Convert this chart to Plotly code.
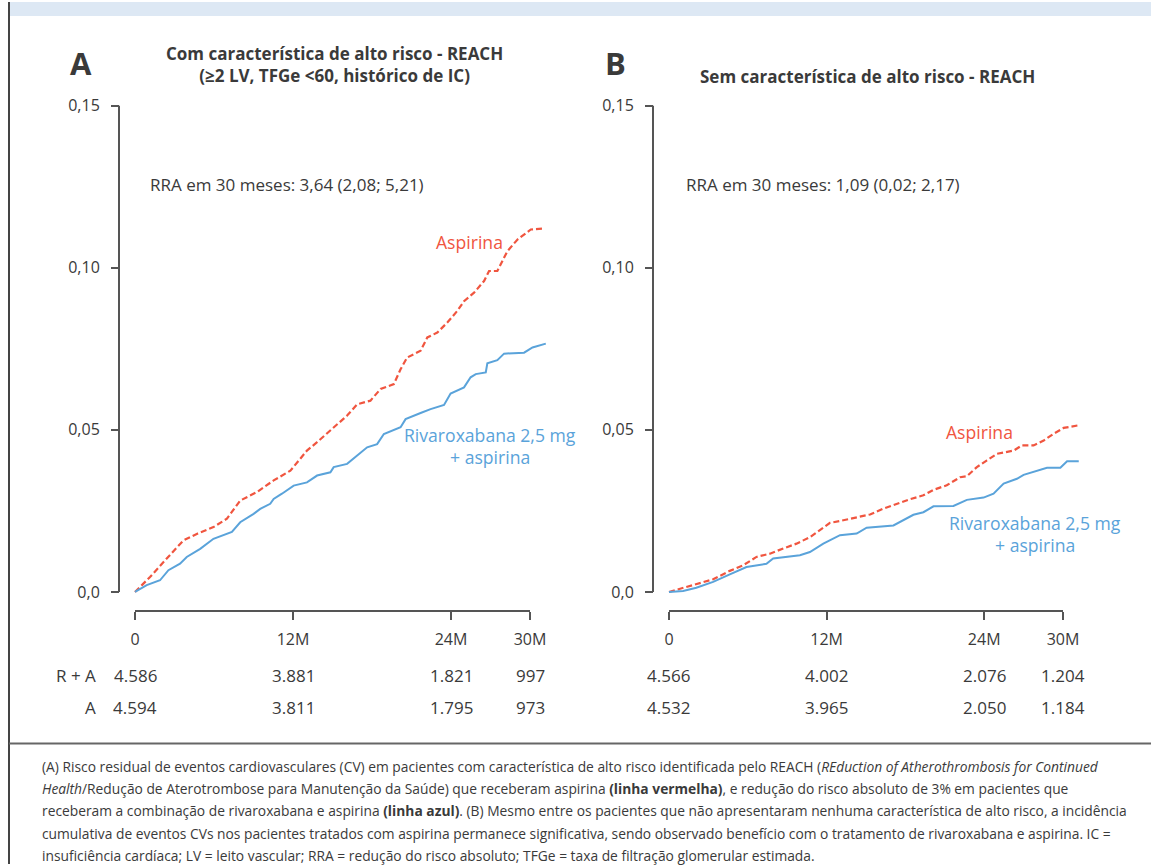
import plotly.graph_objects as go

W, H = 1151, 865

# ---------------- data ----------------
# Panel A: with high-risk REACH feature
a_asp_t = [0, 1.14, 2.41, 3.68, 4.69, 5.96, 6.98, 7.99, 9.26, 10.53, 11.80, 13.06, 13.83, 15.09,
           16.11, 16.87, 17.88, 18.65, 19.66, 20.17, 20.67, 21.69, 22.20, 22.96, 23.72, 24.48,
           24.99, 25.75, 26.51, 26.89, 27.52, 28.28, 29.05, 30.06, 30.95]
a_asp_v = [0, 0.0046, 0.0103, 0.0159, 0.0179, 0.0200, 0.0226, 0.0282, 0.0308, 0.0344, 0.0374,
           0.0436, 0.0462, 0.0508, 0.0544, 0.0579, 0.0590, 0.0626, 0.0641, 0.0687, 0.0723, 0.0744,
           0.0785, 0.0800, 0.0831, 0.0867, 0.0897, 0.0923, 0.0959, 0.0990, 0.0990, 0.1051, 0.1087,
           0.1118, 0.1121]
a_riv_t = [0, 0.89, 1.90, 2.54, 3.42, 3.93, 4.95, 5.96, 7.36, 7.99, 9.01, 9.51, 10.27, 10.53,
           11.16, 12.05, 13.06, 13.83, 14.84, 15.09, 16.11, 16.87, 17.63, 18.39, 18.90, 20.17,
           20.55, 21.69, 22.45, 23.47, 23.97, 24.99, 25.49, 25.88, 26.64, 26.76, 27.52, 28.03,
           29.55, 30.19, 30.82, 31.20]
a_riv_v = [0, 0.0021, 0.0036, 0.0067, 0.0087, 0.0108, 0.0133, 0.0164, 0.0185, 0.0215, 0.0241,
           0.0256, 0.0272, 0.0287, 0.0303, 0.0328, 0.0338, 0.0359, 0.0369, 0.0385, 0.0395, 0.0421,
           0.0446, 0.0456, 0.0487, 0.0508, 0.0533, 0.0552, 0.0564, 0.0577, 0.0612, 0.0631, 0.0662,
           0.0672, 0.0677, 0.0705, 0.0715, 0.0735, 0.0738, 0.0754, 0.0762, 0.0766]

# Panel B: without high-risk REACH feature
b_asp_t = [0, 1.07, 2.08, 3.36, 4.63, 5.64, 6.66, 7.68, 8.70, 9.71, 10.73, 11.75, 12.26, 13.27,
           14.29, 15.31, 16.32, 17.34, 18.36, 19.37, 20.14, 21.15, 22.17, 22.68, 23.44, 24.21,
           24.97, 26.24, 26.88, 27.76, 28.53, 29.29, 30.05, 31.20]
b_asp_v = [0, 0.0013, 0.0024, 0.0039, 0.0065, 0.0082, 0.0108, 0.0118, 0.0134, 0.0149, 0.0169,
           0.0200, 0.0213, 0.0221, 0.0231, 0.0239, 0.0257, 0.0272, 0.0286, 0.0298, 0.0315, 0.0329,
           0.0354, 0.0357, 0.0385, 0.0406, 0.0426, 0.0436, 0.0452, 0.0452, 0.0467, 0.0488, 0.0506,
           0.0514]
b_riv_t = [0, 1.07, 2.08, 3.36, 4.63, 5.90, 7.42, 7.93, 9.97, 10.73, 11.75, 13.02, 14.29, 15.05,
           17.09, 17.85, 18.61, 19.37, 20.14, 21.66, 22.68, 23.95, 24.71, 25.48, 26.49, 27.00,
           28.02, 28.78, 29.80, 30.31, 31.20]
b_riv_v = [0, 0.0003, 0.0013, 0.0031, 0.0054, 0.0077, 0.0087, 0.0103, 0.0113, 0.0123, 0.0149,
           0.0175, 0.0180, 0.0198, 0.0205, 0.0221, 0.0238, 0.0246, 0.0264, 0.0265, 0.0284, 0.0291,
           0.0303, 0.0334, 0.0349, 0.0361, 0.0375, 0.0383, 0.0383, 0.0403, 0.0403]

x_tickvals = [0, 12, 24, 30]
x_ticktext = ["0", "12M", "24M", "30M"]
y_tickvals = [0, 0.05, 0.10, 0.15]
y_ticktext = ["0,0", "0,05", "0,10", "0,15"]

risk_labels = ["R + A", "A"]
a_risk_ra = ["4.586", "3.881", "1.821", "997"]
a_risk_a = ["4.594", "3.811", "1.795", "973"]
b_risk_ra = ["4.566", "4.002", "2.076", "1.204"]
b_risk_a = ["4.532", "3.965", "2.050", "1.184"]

title_a = "Com característica de alto risco - REACH<br>(≥2 LV, TFGe <60, histórico de IC)"
title_b = "Sem característica de alto risco - REACH"
rra_a = "RRA em 30 meses: 3,64 (2,08; 5,21)"
rra_b = "RRA em 30 meses: 1,09 (0,02; 2,17)"

caption_lines = [
    "(A) Risco residual de eventos cardiovasculares (CV) em pacientes com característica de alto risco identificada pelo REACH (<i>REduction of Atherothrombosis for Continued</i>",
    "<i>Health</i>/Redução de Aterotrombose para Manutenção da Saúde) que receberam aspirina <b>(linha vermelha)</b>, e redução do risco absoluto de 3% em pacientes que",
    "receberam a combinação de rivaroxabana e aspirina <b>(linha azul)</b>. (B) Mesmo entre os pacientes que não apresentaram nenhuma característica de alto risco, a incidência",
    "cumulativa de eventos CVs nos pacientes tratados com aspirina permanece significativa, sendo observado benefício com o tratamento de rivaroxabana e aspirina. IC =",
    "insuficiência cardíaca; LV = leito vascular; RRA = redução do risco absoluto; TFGe = taxa de filtração glomerular estimada.",
]

# ---------------- style ----------------
RED = "#f0553f"
BLUE = "#5aa3da"
TXT = "#3a3a3a"
AX = "#555555"
FONT = "'Open Sans', 'Noto Sans', sans-serif"


def px(x):
    return x / W


def py(y):
    return 1 - y / H


X_MIN, X_MAX = -0.4, 31.6
Y_MIN, Y_MAX = -0.003, 0.153
Y0_PX, Y15_PX = 592, 104
ypp = (Y0_PX - Y15_PX) / 0.15
y_dom = [py(Y0_PX - Y_MIN * ypp), py(Y15_PX - (Y_MAX - 0.15) * ypp)]
X_AXIS_PX = 611


def x_domain(x0px, x30px):
    k = (x30px - x0px) / 30
    return [px(x0px + X_MIN * k), px(x0px + X_MAX * k)]


fig = go.Figure()

fig.add_trace(go.Scatter(x=a_asp_t, y=a_asp_v, mode="lines",
                         line=dict(color=RED, width=2.2, dash="6px,3px"), xaxis="x", yaxis="y"))
fig.add_trace(go.Scatter(x=a_riv_t, y=a_riv_v, mode="lines",
                         line=dict(color=BLUE, width=2), xaxis="x", yaxis="y"))
fig.add_trace(go.Scatter(x=b_asp_t, y=b_asp_v, mode="lines",
                         line=dict(color=RED, width=2.2, dash="6px,3px"), xaxis="x2", yaxis="y2"))
fig.add_trace(go.Scatter(x=b_riv_t, y=b_riv_v, mode="lines",
                         line=dict(color=BLUE, width=2), xaxis="x2", yaxis="y2"))

xa_common = dict(range=[X_MIN, X_MAX], tickvals=x_tickvals, ticktext=x_ticktext,
                 showgrid=False, zeroline=False, showline=False, ticks="outside",
                 ticklen=8, tickwidth=2, tickcolor=AX, anchor="free", position=py(X_AXIS_PX),
                 tickfont=dict(family=FONT, size=16, color=TXT), ticklabelstandoff=6, fixedrange=True)
ya_common = dict(range=[Y_MIN, Y_MAX], domain=y_dom, tickvals=y_tickvals, ticktext=y_ticktext,
                 showgrid=False, zeroline=False, showline=False, ticks="outside",
                 ticklen=8, tickwidth=2, tickcolor=AX, anchor="free",
                 tickfont=dict(family=FONT, size=16, color=TXT), ticklabelstandoff=8, fixedrange=True)

A_YAX_PX, B_YAX_PX = 119, 653
fig.update_layout(
    xaxis=dict(domain=x_domain(135, 530), **xa_common),
    yaxis=dict(position=px(A_YAX_PX), **ya_common),
    xaxis2=dict(domain=x_domain(669, 1063), **xa_common),
    yaxis2=dict(position=px(B_YAX_PX), **ya_common),
)

shapes = []
# header strip and frame
shapes.append(dict(type="rect", xref="paper", yref="paper", x0=px(10), x1=1, y0=py(14), y1=1,
                   fillcolor="#dde8f4", line=dict(width=0), layer="below"))
shapes.append(dict(type="line", xref="paper", yref="paper", x0=px(9), x1=px(9), y0=0, y1=1,
                   line=dict(color="#444444", width=2)))
shapes.append(dict(type="line", xref="paper", yref="paper", x0=px(9), x1=1, y0=py(744), y1=py(744),
                   line=dict(color="#666666", width=2)))
# axis lines drawn through the axes' scales
for xr, yr, ypos in [("x", "y", A_YAX_PX), ("x2", "y2", B_YAX_PX)]:
    shapes.append(dict(type="line", xref=xr, yref="paper", x0=0, x1=30,
                       y0=py(X_AXIS_PX), y1=py(X_AXIS_PX), line=dict(color=AX, width=2)))
    shapes.append(dict(type="line", xref="paper", yref=yr, x0=px(ypos), x1=px(ypos),
                       y0=0, y1=0.15, line=dict(color=AX, width=2)))
fig.update_layout(shapes=shapes)

ann = []


def text(x, y, s, size=17, color=TXT, xanchor="center", bold=False, xref="paper", yanchor="middle"):
    ann.append(dict(x=x, y=y, xref=xref, yref="paper", text=("<b>%s</b>" % s) if bold else s,
                    showarrow=False, xanchor=xanchor, yanchor=yanchor,
                    font=dict(family=FONT, size=size, color=color)))


# panel letters and titles
text(px(81), py(61), "A", size=31, bold=True)
text(px(615), py(61), "B", size=31, bold=True)
ann.append(dict(x=px(334), y=py(63), xref="paper", yref="paper", text="<b>%s</b>" % title_a,
                showarrow=False, xanchor="center", yanchor="middle", align="center",
                font=dict(family=FONT, size=17, color=TXT)))
text(px(867), py(75), title_b, size=17, bold=True)
text(px(148), py(183), rra_a, xanchor="left")
text(px(684), py(183), rra_b, xanchor="left")

# curve labels
LS = 17.6
text(px(469), py(241), "Aspirina", color=RED, size=LS)
text(px(490), py(435), "Rivaroxabana 2,5 mg", color=BLUE, size=LS)
text(px(490), py(457), "+ aspirina", color=BLUE, size=LS)
text(px(979), py(431), "Aspirina", color=RED, size=LS)
text(px(1035), py(523), "Rivaroxabana 2,5 mg", color=BLUE, size=LS)
text(px(1035), py(545), "+ aspirina", color=BLUE, size=LS)

# numbers at risk
text(px(98), py(676), risk_labels[0], xanchor="right")
text(px(98), py(708), risk_labels[1], xanchor="right")
for xr, r1, r2 in [("x", a_risk_ra, a_risk_a), ("x2", b_risk_ra, b_risk_a)]:
    for t, v1, v2 in zip(x_tickvals, r1, r2):
        text(t, py(676), v1, xref=xr)
        text(t, py(708), v2, xref=xr)

# caption
for i, line in enumerate(caption_lines):
    text(px(40), py(767 + i * 22.3), line, size=13.8, xanchor="left")

fig.update_layout(annotations=ann, width=W, height=H, margin=dict(l=0, r=0, t=0, b=0),
                  paper_bgcolor="white", plot_bgcolor="rgba(0,0,0,0)", showlegend=False,
                  font=dict(family=FONT, color=TXT))

fig.write_html("out.html", config={"displayModeBar": False},
               post_script="document.body.style.margin='0';document.body.style.padding='0';"
                           "document.documentElement.style.overflow='hidden';")
